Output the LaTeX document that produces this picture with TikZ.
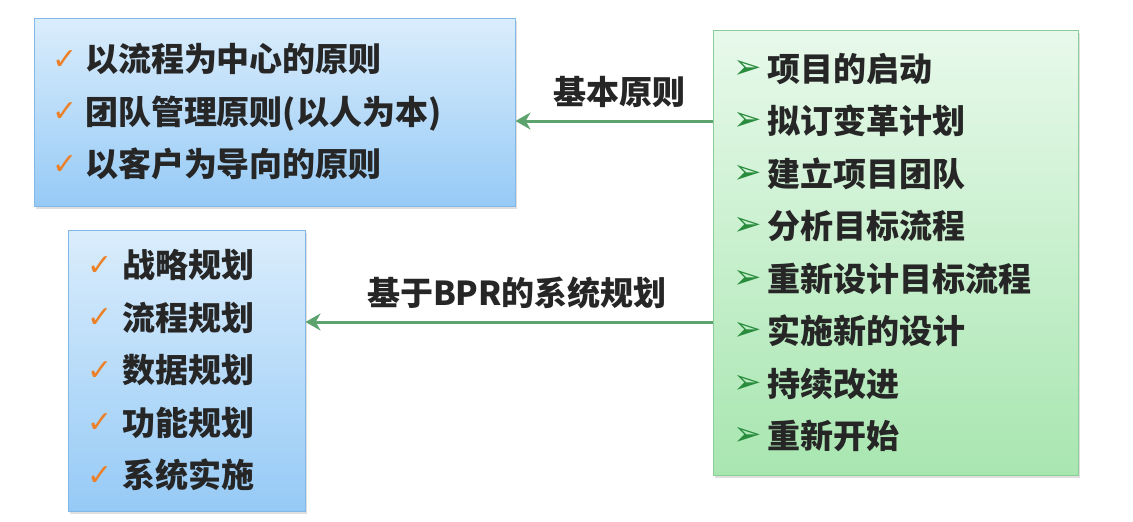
\documentclass[tikz,border=0pt]{standalone}
\usepackage{fontspec}
\setmainfont{Noto Sans CJK SC}
\newfontfamily\symfont{DejaVu Sans}
\usepackage{xcolor}
\usetikzlibrary{positioning,arrows.meta,shadows}

\definecolor{bluetop}{RGB}{218,237,252}
\definecolor{bluebot}{RGB}{150,202,246}
\definecolor{blueline}{RGB}{130,184,232}
\definecolor{greentop}{RGB}{232,249,235}
\definecolor{greenbot}{RGB}{168,230,176}
\definecolor{greenline}{RGB}{140,206,152}
\definecolor{flowgreen}{RGB}{92,163,110}
\definecolor{chkorange}{RGB}{236,128,40}
\definecolor{tipgreen}{RGB}{40,140,60}
\definecolor{inkgray}{RGB}{38,38,38}

% list marks, centred on the CJK line
\newcommand{\chk}[1]{\makebox[#1][l]{\raisebox{\dimexpr12pt-0.5\height\relax}{\symfont\mdseries\fontsize{30}{30}\selectfont\color{chkorange}✓}}}
\newcommand{\tip}{\makebox[34pt][l]{\raisebox{\dimexpr12pt-0.5\height\relax}{\symfont\bfseries\fontsize{34}{34}\selectfont\color{tipgreen}➢}}}

\begin{document}
\begin{tikzpicture}[x=1pt,y=1pt,
                    box/.style={draw,line width=1pt,align=left,inner ysep=0pt,
                                font=\fontsize{33}{52.5}\selectfont\bfseries,text=inkgray,
                                drop shadow={shadow xshift=2pt,shadow yshift=-3pt,opacity=0.25}},
                    bluebox/.style={box,draw=blueline,top color=bluetop,bottom color=bluebot},
                    greenbox/.style={box,draw=greenline,top color=greentop,bottom color=greenbot},
                    flow/.style={draw=flowgreen,line width=3pt,-{Stealth[length=15pt,width=17pt]}},
                    lbl/.style={font=\fontsize{33}{40}\selectfont\bfseries,text=inkgray,inner sep=0pt}]

  \useasboundingbox (0,0) rectangle (1133,-522);

  \node[bluebox,inner xsep=18pt,text width=445pt,minimum height=188pt] (principles) at (274.5,-112)
       {\chk{33pt}以流程为中心的原则\\ \chk{33pt}团队管理原则(以人为本)\\ \chk{33pt}以客户为导向的原则};
  \node[bluebox,inner xsep=19pt,text width=199pt,minimum height=281pt] (planning) at (186.5,-370.5)
       {\chk{35pt}战略规划\\ \chk{35pt}流程规划\\ \chk{35pt}数据规划\\ \chk{35pt}功能规划\\ \chk{35pt}系统实施};
  \node[greenbox,inner xsep=20pt,text width=325pt,minimum height=445pt] (steps) at (895.5,-252.5)
       {\tip 项目的启动\\ \tip 拟订变革计划\\ \tip 建立项目团队\\ \tip 分析目标流程\\
        \tip 重新设计目标流程\\ \tip 实施新的设计\\ \tip 持续改进\\ \tip 重新开始};

  \draw[flow] (steps.west |- 0,-121) -- node[lbl,above=12pt,xshift=5pt] (basic) {基本原则} (principles.east |- 0,-121);
  \draw[flow] (steps.west |- 0,-322) -- node[lbl,above=12pt,xshift=8pt] (bpr) {基于BPR的系统规划} (planning.east |- 0,-322);

\end{tikzpicture}
\end{document}
